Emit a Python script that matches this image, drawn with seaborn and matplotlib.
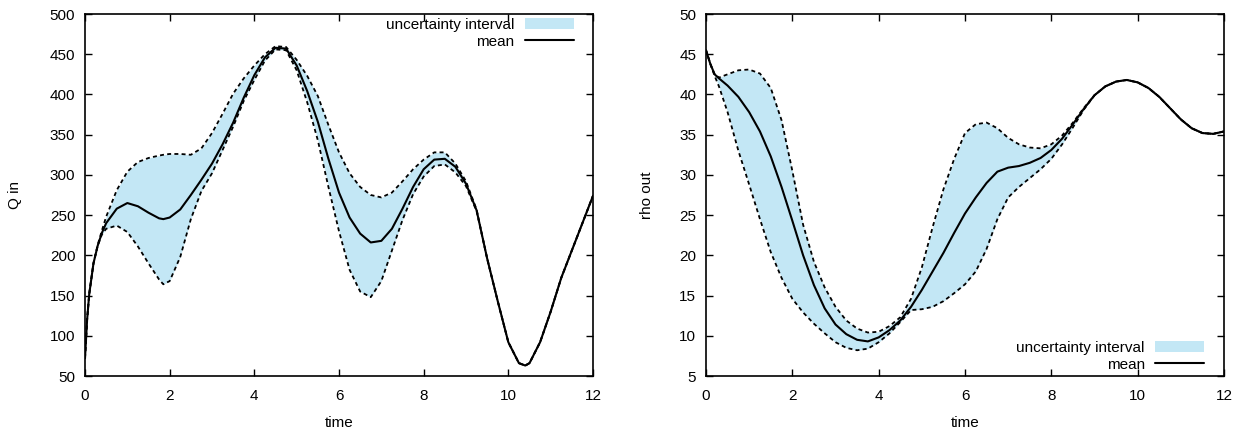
import matplotlib
matplotlib.use("Agg")
import numpy as np
import pandas as pd
import matplotlib.pyplot as plt
import seaborn as sns
from matplotlib.patches import Patch
from matplotlib.lines import Line2D

#%% data
q_time = [0, 0.05, 0.1, 0.2, 0.3, 0.4, 0.5, 0.75, 1.0, 1.25, 1.5, 1.75, 1.85, 2.0,
          2.25, 2.5, 2.75, 3.0, 3.25, 3.5, 3.75, 4.0, 4.25, 4.5, 4.75, 5.0, 5.25,
          5.5, 5.75, 6.0, 6.25, 6.5, 6.75, 7.0, 7.25, 7.5, 7.75, 8.0, 8.25, 8.5,
          8.75, 9.0, 9.25, 9.5, 9.75, 10.0, 10.25, 10.4, 10.5, 10.75, 11.0, 11.25,
          11.5, 11.75, 12.0]
q_mean = [72, 120, 152, 190, 212, 228, 240, 258, 265, 261, 253, 246, 245, 247,
          257, 275, 294, 314, 338, 365, 396, 424, 446, 458, 457, 436, 404,
          366, 320, 278, 247, 227, 216, 218, 233, 258, 285, 307, 319, 320,
          310, 289, 256, 196, 143, 92, 66, 63, 66, 92, 130, 172,
          206, 240, 274]
q_upper = [72, 120, 152, 190, 213, 231, 248, 281, 304, 316, 321, 324, 325, 326,
           326, 325, 333, 352, 376, 401, 420, 436, 450, 460, 459, 443, 423,
           398, 362, 328, 302, 285, 275, 272, 278, 292, 307, 319, 328, 328,
           314, 292, 257, 196, 143, 92, 66, 63, 66, 92, 130, 172,
           206, 240, 274]
q_lower = [72, 120, 152, 190, 212, 226, 233, 237, 229, 211, 190, 170, 164, 168,
           198, 245, 280, 302, 331, 360, 392, 418, 442, 456, 455, 430, 390,
           343, 285, 230, 182, 155, 148, 168, 206, 244, 276, 298, 311, 313,
           303, 286, 255, 196, 143, 92, 66, 63, 66, 92, 130, 172,
           206, 240, 274]

rho_time = [0, 0.1, 0.2, 0.3, 0.5, 0.75, 1.0, 1.25, 1.5, 1.75, 2.0, 2.25, 2.5,
            2.75, 3.0, 3.25, 3.5, 3.75, 4.0, 4.25, 4.5, 4.75, 5.0, 5.25, 5.5,
            5.75, 6.0, 6.25, 6.5, 6.75, 7.0, 7.25, 7.5, 7.75, 8.0, 8.25, 8.5,
            8.75, 9.0, 9.25, 9.5, 9.75, 10.0, 10.25, 10.5, 10.75, 11.0, 11.25,
            11.5, 11.75, 12.0]
rho_mean = [45.5, 43.8, 42.5, 42.0, 41.1, 39.7, 37.8, 35.4, 32.3, 28.5, 24.3, 20.0, 16.3,
            13.4, 11.4, 10.2, 9.5, 9.3, 9.8, 10.7, 11.9, 13.6, 15.7, 18.0, 20.3,
            22.8, 25.2, 27.2, 29.0, 30.4, 30.9, 31.1, 31.5, 32.1, 33.1, 34.5, 36.3,
            38.2, 39.9, 41.0, 41.6, 41.8, 41.5, 40.8, 39.7, 38.3, 36.9, 35.8,
            35.2, 35.1, 35.4]
rho_upper = [45.5, 43.8, 42.5, 42.1, 42.5, 43.0, 43.1, 42.6, 40.8, 36.8, 30.5, 23.8, 19.2,
             16.0, 13.6, 11.9, 10.9, 10.4, 10.5, 11.2, 12.3, 14.6, 18.5, 23.5, 28.2,
             32.0, 35.2, 36.3, 36.5, 35.8, 34.6, 33.8, 33.4, 33.3, 33.8, 34.9, 36.5,
             38.3, 39.9, 41.0, 41.6, 41.8, 41.5, 40.8, 39.7, 38.3, 36.9, 35.8,
             35.2, 35.1, 35.4]
rho_lower = [45.5, 43.8, 42.3, 41.0, 37.8, 33.0, 28.8, 24.5, 20.4, 17.2, 14.6, 12.9, 11.5,
             10.3, 9.2, 8.5, 8.2, 8.4, 9.2, 10.3, 11.7, 13.2, 13.3, 13.6, 14.3,
             15.3, 16.4, 18.0, 20.8, 24.5, 27.2, 28.5, 29.6, 30.7, 32.0, 33.8, 35.9,
             38.1, 39.9, 41.0, 41.6, 41.8, 41.5, 40.8, 39.7, 38.3, 36.9, 35.8,
             35.2, 35.1, 35.4]

FILL = '#c3e7f5'

#%%
sns.set_style("ticks")
plt.rcParams['font.family'] = ['Liberation Sans', 'DejaVu Sans']
plt.rcParams['font.size'] = 11
for key in ['text.color', 'axes.labelcolor', 'xtick.color', 'ytick.color',
            'axes.edgecolor']:
    plt.rcParams[key] = 'black'

fig = plt.figure(figsize=(12.46, 4.32), dpi=100)
ax1 = fig.add_axes([85 / 1246, 56 / 432, 508 / 1246, 362 / 432])
ax2 = fig.add_axes([706 / 1246, 56 / 432, 518 / 1246, 362 / 432])


def draw_panel(ax, t, mean, lo, hi, ylabel, ypad, ylim, yticks, legend_loc, anchor):
    df = pd.DataFrame({"time": t, "mean": mean, "lo": lo, "hi": hi})
    ax.fill_between(df["time"], df["lo"], df["hi"], color=FILL, linewidth=0)
    sns.lineplot(data=df, x="time", y="lo", ax=ax, color="black",
                 linewidth=1.3, linestyle=(0, (2.2, 1.8)), sort=False)
    sns.lineplot(data=df, x="time", y="hi", ax=ax, color="black",
                 linewidth=1.3, linestyle=(0, (2.2, 1.8)), sort=False)
    sns.lineplot(data=df, x="time", y="mean", ax=ax, color="black",
                 linewidth=1.5, sort=False)
    ax.set_xlim(0, 12)
    ax.set_ylim(*ylim)
    ax.set_xticks(range(0, 13, 2))
    ax.set_yticks(yticks)
    ax.set_xlabel("time", labelpad=10)
    ax.set_ylabel(ylabel, labelpad=ypad)
    ax.tick_params(direction="in", top=True, right=True, length=5, width=1,
                   labelsize=11)
    ax.tick_params(axis="x", pad=9)
    ax.tick_params(axis="y", pad=7)
    for sp in ax.spines.values():
        sp.set_linewidth(1.2)
        sp.set_visible(True)
    handles = [Patch(facecolor=FILL, edgecolor="none"),
               Line2D([], [], color="black", linewidth=1.5)]
    ax.legend(handles, ["uncertainty interval", "mean"], loc=legend_loc,
              bbox_to_anchor=anchor, frameon=False, markerfirst=False,
              handlelength=3.2, handletextpad=0.7, labelspacing=0.2,
              borderpad=0, borderaxespad=0, fontsize=11)


draw_panel(ax1, q_time, q_mean, q_lower, q_upper, "Q in", 20, (50, 500),
           range(50, 501, 50), "upper right", (0.962, 0.99))
draw_panel(ax2, rho_time, rho_mean, rho_lower, rho_upper, "rho out", 18, (5, 50),
           range(5, 51, 5), "lower right", (0.962, 0.012))

fig.savefig("out.png", dpi=100)
